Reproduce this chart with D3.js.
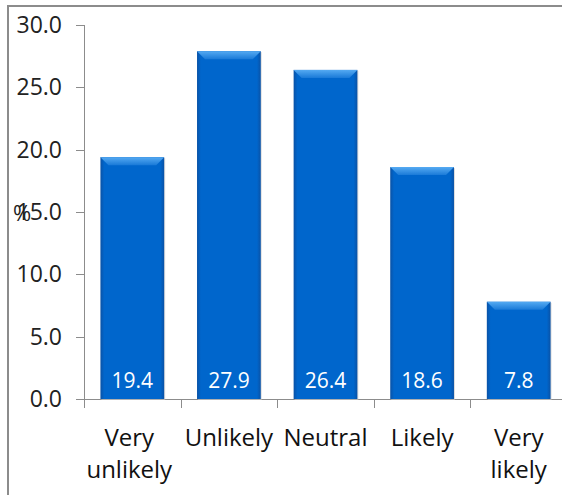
<!DOCTYPE html>
<html>
<head>
    <meta charset="utf-8">
    <script src="https://d3js.org/d3.v7.min.js"></script>
    <style>
      body { margin: 0; background: #fff; }
      text { font-family: "Open Sans", sans-serif; }
    </style>
</head>
<body>
    <script>
      // data
      const categories = [["Very", "unlikely"], ["Unlikely"], ["Neutral"], ["Likely"], ["Very", "likely"]];
      const values = [19.4, 27.9, 26.4, 18.6, 7.8];
      const yTicks = [0, 5, 10, 15, 20, 25, 30];

      const width = 562, height = 495;
      const svg = d3.select('body').append('svg')
          .attr('width', width)
          .attr('height', height);

      // outer frame (only top and left show)
      svg.append('path')
          .attr('d', 'M8,495 V6 H562')
          .attr('fill', 'none')
          .attr('stroke', '#8c8c8c')
          .attr('stroke-width', 2);

      const x = d3.scaleBand()
          .domain(d3.range(values.length))
          .range([84, 567])
          .paddingInner(0.34)
          .paddingOuter(0.17);

      const y = d3.scaleLinear()
          .domain([0, 30])
          .range([399, 25]);

      const step = x.step();

      // y axis
      const yAxis = svg.append('g');
      yAxis.append('line')
          .attr('x1', 84.5).attr('x2', 84.5)
          .attr('y1', y(30)).attr('y2', y(0))
          .attr('stroke', '#8c8c8c');
      yAxis.selectAll('.ytick')
          .data(yTicks)
          .enter().append('line')
          .attr('x1', 76).attr('x2', 84)
          .attr('y1', d => Math.round(y(d)) + 0.5)
          .attr('y2', d => Math.round(y(d)) + 0.5)
          .attr('stroke', '#8c8c8c');
      yAxis.selectAll('.ylabel')
          .data(yTicks)
          .enter().append('text')
          .attr('x', 62)
          .attr('y', d => y(d) + 8)
          .attr('text-anchor', 'end')
          .attr('font-size', 23)
          .attr('fill', '#222')
          .text(d => d.toFixed(1));

      // axis title (sits on top of the 15.0 label, as in the original)
      svg.append('text')
          .attr('x', 13)
          .attr('y', 221)
          .attr('font-size', 22)
          .attr('fill', '#222')
          .text('%');

      // x axis
      svg.append('line')
          .attr('x1', 76).attr('x2', 567)
          .attr('y1', 399.5).attr('y2', 399.5)
          .attr('stroke', '#8c8c8c');
      svg.selectAll('.xtick')
          .data(d3.range(values.length + 1))
          .enter().append('line')
          .attr('x1', i => Math.round(84 + i * step) + 0.5)
          .attr('x2', i => Math.round(84 + i * step) + 0.5)
          .attr('y1', 399).attr('y2', 408)
          .attr('stroke', '#8c8c8c');

      // gradients
      const defs = svg.append('defs');
      const sideGrad = defs.append('linearGradient').attr('id', 'barGrad');
      sideGrad.append('stop').attr('offset', '0%').attr('stop-color', '#0a52a6');
      sideGrad.append('stop').attr('offset', '6%').attr('stop-color', '#0066cc');
      sideGrad.append('stop').attr('offset', '94%').attr('stop-color', '#0066cc');
      sideGrad.append('stop').attr('offset', '100%').attr('stop-color', '#0a52a6');
      const topGrad = defs.append('linearGradient').attr('id', 'topGrad')
          .attr('x1', 0).attr('x2', 0).attr('y1', 0).attr('y2', 1);
      topGrad.append('stop').attr('offset', '0%').attr('stop-color', '#55aaf2');
      topGrad.append('stop').attr('offset', '100%').attr('stop-color', '#1a7ad8');

      const bars = svg.selectAll('.bar')
          .data(values)
          .enter().append('g')
          .attr('class', 'bar');

      // soft shadow
      bars.append('rect')
          .attr('x', (d, i) => x(i) + 1)
          .attr('y', d => y(d) + 1)
          .attr('width', x.bandwidth())
          .attr('height', d => y(0) - y(d))
          .attr('fill', '#c8c8c8')
          .attr('opacity', 0.6);

      bars.append('rect')
          .attr('x', (d, i) => x(i))
          .attr('y', d => y(d))
          .attr('width', x.bandwidth())
          .attr('height', d => y(0) - y(d))
          .attr('fill', 'url(#barGrad)');

      const bevel = 8;
      bars.append('path')
          .attr('d', (d, i) => {
            const x0 = x(i), x1 = x(i) + x.bandwidth(), t = y(d);
            return `M${x0},${t} H${x1} L${x1 - bevel},${t + bevel} H${x0 + bevel} Z`;
          })
          .attr('fill', 'url(#topGrad)');

      bars.append('text')
          .attr('x', (d, i) => x(i) + x.bandwidth() / 2)
          .attr('y', 388)
          .attr('text-anchor', 'middle')
          .attr('font-size', 21)
          .attr('fill', '#fff')
          .text(d => d.toFixed(1));

      // category labels
      svg.selectAll('.cat')
          .data(categories)
          .enter().append('text')
          .attr('text-anchor', 'middle')
          .attr('font-size', 24)
          .attr('fill', '#111')
          .each(function(lines, i) {
            const t = d3.select(this);
            lines.forEach((s, k) => {
              t.append('tspan')
                .attr('x', x(i) + x.bandwidth() / 2 + (i === 0 ? -3 : 0))
                .attr('y', 446 + k * 32)
                .text(s);
            });
          });
    </script>
</body>
</html>
